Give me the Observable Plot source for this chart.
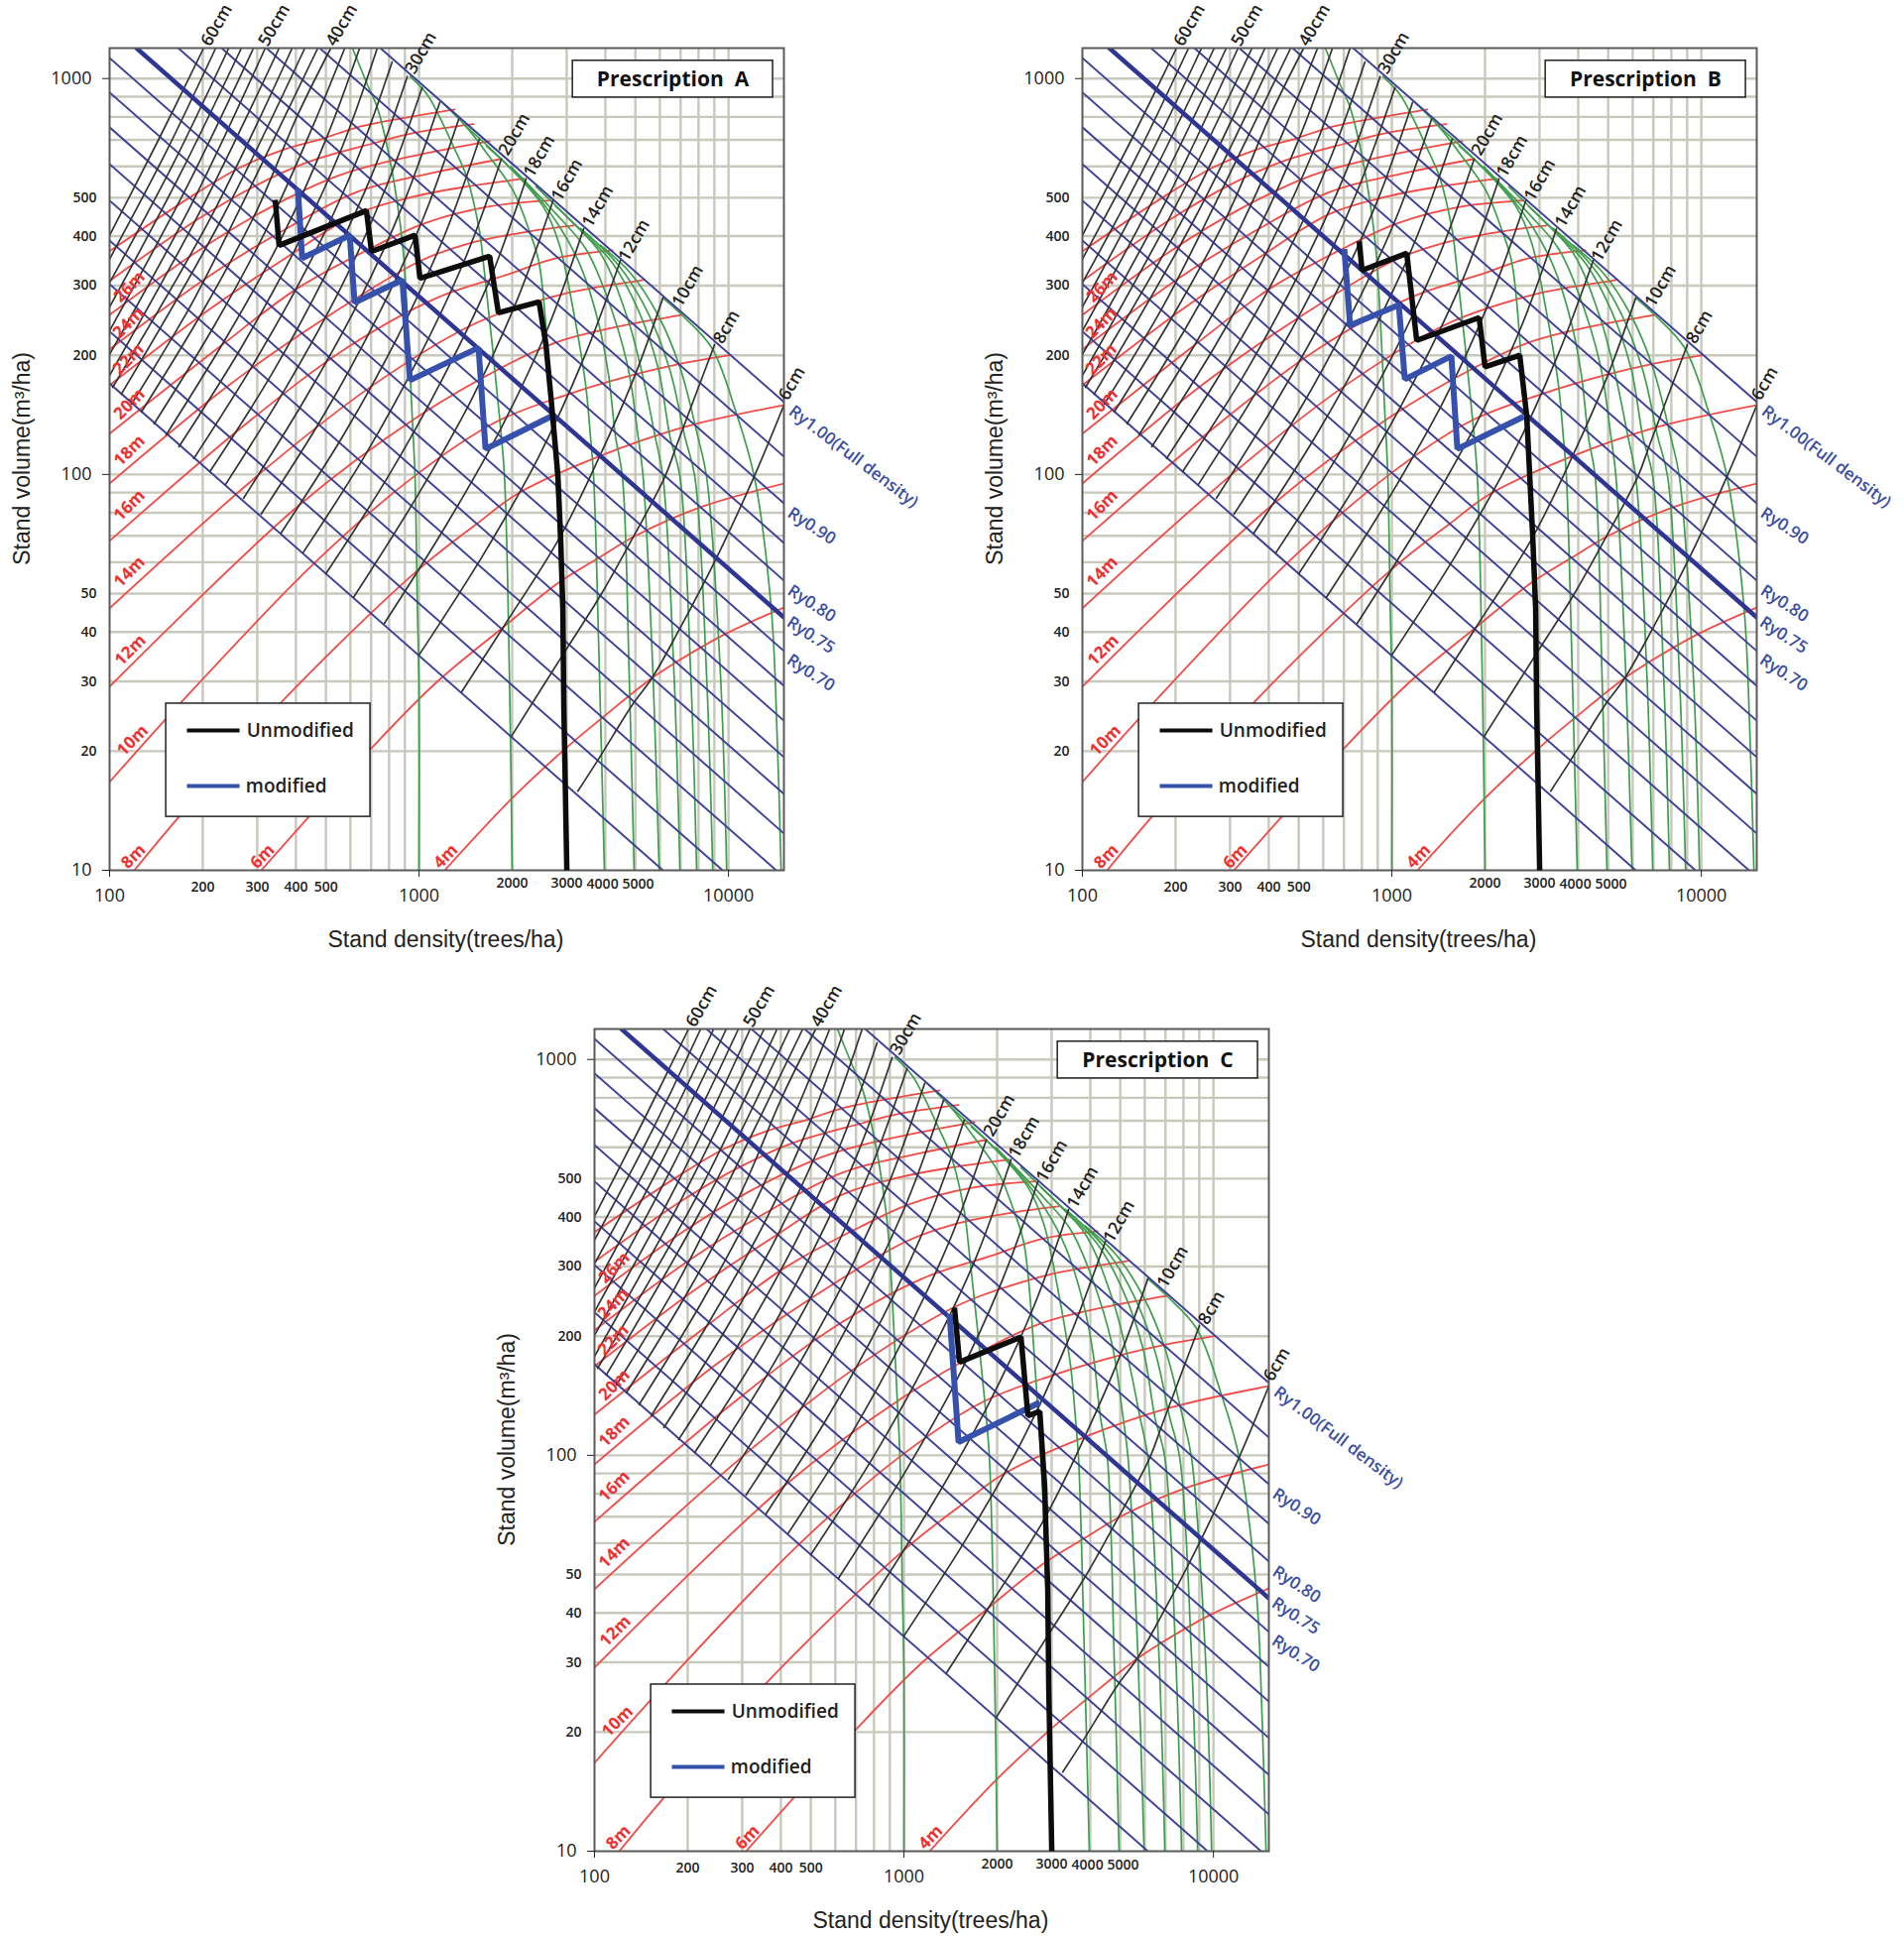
<!DOCTYPE html>
<html><head><meta charset="utf-8">
<script src="https://cdn.jsdelivr.net/npm/d3@7"></script>
<script src="https://cdn.jsdelivr.net/npm/@observablehq/plot@0.6"></script>
<style>html,body{margin:0;background:#fff}#c{position:relative;width:1920px;height:1953px;overflow:hidden}#c svg{position:absolute;overflow:visible}</style>
</head><body><div id="c"></div>
<script>
// All curves; each entry: [name, log10(density) list, log10(volume) list]
const ryLines = [
 ["1.00",[2.875,4.179],[3.077,2.183]],["r2",[2.679,4.179],[3.077,2.045]],["r3",[2.507,4.179],[3.077,1.927]],
 ["r4",[2.362,4.179],[3.077,1.827]],["r5",[2.222,4.179],[3.077,1.732]],
 ["r7",[2,4.179],[3.052,1.554]],["r8",[2,4.179],[2.965,1.466]],["r9",[2,4.179],[2.877,1.378]],
 ["r10",[2,4.179],[2.784,1.286]],["r11",[2,4.179],[2.692,1.193]],["r12",[2,4.179],[2.591,1.093]],
 ["r13",[2,4.154],[2.481,1]],["r14",[2,3.981],[2.361,1]],["r15",[2,3.788],[2.230,1]]];
const ryBold = [["bold",[2.087,4.179],[3.077,1.639]]];
const heightLines = [
 ["4m",[3.083,3.298,3.481,3.593,3.753,3.827,3.987,4.179],[1,1.180,1.313,1.386,1.486,1.524,1.596,1.664]],
 ["6m",[2.490,2.849,3.058,3.272,3.452,3.580,3.699,3.901,4.179],[1,1.311,1.476,1.614,1.727,1.789,1.845,1.915,1.977]],
 ["8m",[2.080,2.224,2.554,2.987,3.186,3.320,3.580,3.859,4.179],[1,1.135,1.424,1.752,1.875,1.952,2.045,2.120,2.175]],
 ["10m",[2,2.224,2.663,2.984,3.250,3.484,3.699,3.836,4.003],[1.223,1.418,1.777,1.995,2.133,2.203,2.253,2.278,2.301]],
 ["12m",[2,2.609,2.994,3.282,3.442,3.554,3.689,3.849],[1.464,1.920,2.145,2.276,2.333,2.358,2.381,2.403]],
 ["14m",[2,2.513,2.865,3.186,3.442,3.548,3.724],[1.662,2.020,2.233,2.383,2.451,2.469,2.491]],
 ["16m",[2,2.449,2.769,3.058,3.282,3.442,3.625],[1.832,2.133,2.321,2.446,2.504,2.546,2.566]],
 ["18m",[2,2.385,2.673,3.003,3.163,3.356,3.500],[1.977,2.225,2.383,2.539,2.584,2.614,2.629]],
 ["20m",[2,2.353,2.609,2.856,3.016,3.228,3.426],[2.103,2.321,2.471,2.576,2.634,2.677,2.692]],
 ["22m",[2,2.321,2.577,2.801,2.984,3.154,3.340],[2.225,2.416,2.551,2.659,2.702,2.727,2.747]],
 ["24m",[2,2.321,2.545,2.801,3.058,3.266],[2.316,2.501,2.609,2.714,2.764,2.797]],
 ["26m",[2,2.288,2.513,2.737,2.907,3.090,3.228],[2.403,2.566,2.672,2.754,2.792,2.822,2.842]],
 ["28m",[2,2.288,2.471,2.641,2.865,2.978,3.176],[2.489,2.646,2.729,2.789,2.839,2.862,2.885]],
 ["30m",[2,2.288,2.426,2.567,2.683,2.801,2.962,3.115],[2.564,2.714,2.777,2.822,2.847,2.877,2.902,2.922]]];
const densityLines = [
 ["n1000",[2.785,2.833,2.865,2.904,2.939,2.952,2.978,2.987,2.994,3,3],[3.077,2.985,2.927,2.802,2.634,2.534,2.145,1.995,1.694,1.444,1]],
 ["n2000",[2.971,3.026,3.067,3.112,3.154,3.195,3.208,3.260,3.276,3.292,3.301],[3.005,2.960,2.902,2.827,2.752,2.616,2.534,2.145,1.995,1.494,1]],
 ["n3000",[3.074,3.154,3.228,3.304,3.356,3.388,3.426,3.449,3.465,3.478],[2.940,2.877,2.802,2.717,2.616,2.534,2.195,1.895,1.494,1]],
 ["n4000",[3.144,3.282,3.401,3.452,3.497,3.538,3.554,3.564,3.583,3.599],[2.885,2.784,2.677,2.584,2.421,2.228,2.095,1.995,1.494,1]],
 ["n5000",[3.218,3.362,3.458,3.522,3.580,3.612,3.635,3.657,3.679,3.695],[2.829,2.722,2.621,2.526,2.383,2.253,2.095,1.995,1.494,1]],
 ["n6000",[3.298,3.442,3.538,3.603,3.673,3.708,3.724,3.756,3.776],[2.777,2.659,2.571,2.458,2.278,2.095,1.995,1.494,1]],
 ["n7000",[3.378,3.490,3.586,3.673,3.724,3.763,3.788,3.824,3.843],[2.727,2.641,2.559,2.396,2.245,2.095,1.995,1.494,1]],
 ["n8000",[3.442,3.538,3.625,3.708,3.772,3.811,3.843,3.878,3.897],[2.677,2.606,2.534,2.416,2.271,2.095,1.995,1.494,1]],
 ["n9000",[3.522,3.644,3.740,3.811,3.859,3.891,3.929,3.949],[2.621,2.529,2.408,2.263,2.095,1.995,1.494,1]],
 ["n10000",[3.586,3.683,3.772,3.843,3.901,3.929,3.974,3.994],[2.579,2.509,2.403,2.271,2.095,1.995,1.494,1]],
 ["n15000",[3.788,3.849,3.945,4.026,4.083,4.138,4.157,4.170],[2.446,2.403,2.321,2.153,1.995,1.662,1.343,1]]];
const diameterLines = [
 ["6",[3.513,3.580,3.689,3.753,3.836,3.961,4.083,4.179],[1.200,1.281,1.418,1.486,1.601,1.789,1.995,2.175]],
 ["8",[3.298,3.474,3.586,3.676,3.795,3.833,3.955],[1.338,1.556,1.694,1.819,1.995,2.075,2.328]],
 ["10",[3.138,3.272,3.452,3.580,3.699,3.788],[1.451,1.614,1.837,2.040,2.253,2.446]],
 ["12",[3.000,3.205,3.385,3.532,3.651],[1.544,1.794,2.042,2.293,2.541]],
 ["14",[2.888,3.090,3.269,3.417,3.532],[1.624,1.875,2.123,2.371,2.621]],
 ["16",[2.788,2.990,3.170,3.317,3.433],[1.689,1.940,2.190,2.441,2.692]],
 ["18",[2.699,2.904,3.080,3.231,3.346],[1.749,2.000,2.248,2.496,2.747]],
 ["20",[2.625,2.827,3.003,3.151,3.266],[1.802,2.050,2.301,2.549,2.797]],
 ["22",[2.554,2.756,2.933,3.080,3.195],[1.852,2.100,2.351,2.599,2.847]],
 ["24",[2.490,2.692,2.865,3.013,3.128],[1.900,2.150,2.398,2.646,2.897]],
 ["26",[2.433,2.631,2.808,2.952,3.067],[1.940,2.190,2.441,2.689,2.940]],
 ["28",[2.375,2.574,2.750,2.894,3.010],[1.975,2.225,2.476,2.727,2.977]],
 ["30",[2.324,2.526,2.699,2.846,2.962],[2.007,2.256,2.506,2.754,3.005]],
 ["32",[2.272,2.474,2.651,2.798,2.913],[2.040,2.291,2.541,2.792,3.042]],
 ["34",[2.224,2.426,2.603,2.750,2.865],[2.070,2.321,2.574,2.824,3.077]],
 ["36",[2.183,2.381,2.558,2.702,2.808],[2.100,2.351,2.601,2.852,3.077]],
 ["38",[2.144,2.340,2.513,2.657,2.760],[2.128,2.378,2.629,2.880,3.077]],
 ["40",[2.103,2.298,2.471,2.609,2.715],[2.158,2.408,2.659,2.910,3.077]],
 ["42",[2.071,2.263,2.426,2.673],[2.178,2.428,2.679,3.077]],
 ["44",[2.038,2.359,2.631],[2.203,2.641,3.077]],
 ["46",[2.010,2.327,2.590],[2.220,2.649,3.077]],
 ["48",[2,2.292,2.548],[2.250,2.664,3.077]],
 ["50",[2,2.269,2.503],[2.303,2.689,3.077]],
 ["52",[2,2.247,2.465],[2.363,2.722,3.077]],
 ["54",[2,2.224,2.426],[2.423,2.752,3.077]],
 ["56",[2,2.202,2.385],[2.484,2.779,3.077]],
 ["58",[2,2.179,2.343],[2.544,2.809,3.077]],
 ["60",[2,2.154,2.304],[2.604,2.839,3.077]]];

// Thinning paths: density (trees/ha) and volume (m3/ha)
const unmodifiedTail = [[2915,45.9],[2937,25.8],[3003,10]];
const pathAblack = [[343,494],[353,379],[676,464],[702,366],[971,402],[1007,313],[1690,356],[1805,256],[2442,273],[2570,213],[2668,157],[2811,98.9],[2872,67.1],...unmodifiedTail];
const pathAblue  = [[406,527],[419,352],[597,402],[619,272],[883,310],[935,173],[1557,209],[1640,116],[2668,140]];
const pathBblack = [[784,388],[801,328],[1117,362],[1203,218],[1914,249],[2000,187],[2590,200],[2729,140],[2851,70],...unmodifiedTail];
const pathBblue  = [[702,371],[733,238],[1053,268],[1101,174],[1557,199],[1628,116],[2668,140]];
const pathCblack = [[1456,236],[1512,172],[2388,199],[2515,126],[2748,129],[2851,82.6],[2872,67.1],...unmodifiedTail];
const pathCblue  = [[1404,227],[1501,108],[2748,136]];

const gridDensity = [200,300,400,500,600,700,800,900,1000,2000,3000,4000,5000,6000,7000,8000,9000,10000];
const gridVolume = [20,30,40,50,60,70,80,90,100,200,300,400,500,600,700,800,900,1000];
const majorDensityTicks = [100,1000,10000];
const hundredsDensityTicks = [200,300,400,500];
const thousandsDensityTicks = [2000,3000];
const majorVolumeTicks = [10,100,1000];
const minorVolumeTicks = [20,30,40,50,200,300,400,500];

// Labels: [text, log10 density, log10 volume]
const diameterLabels = [["60cm",2.346,3.135],["50cm",2.532,3.135],["40cm",2.750,3.135],["30cm",3.006,3.065],["20cm",3.308,2.859],["18cm",3.388,2.804],["16cm",3.478,2.744],["14cm",3.577,2.677],["12cm",3.695,2.591],["10cm",3.868,2.476],["8cm",3.994,2.373],["6cm",4.205,2.230]];
const heightLabels = [["26m",2.064,2.474],["24m",2.061,2.383],["22m",2.061,2.291],["20m",2.064,2.178],["18m",2.064,2.060],["16m",2.064,1.922],["14m",2.064,1.754],["12m",2.067,1.556],["10m",2.074,1.328],["8m",2.077,1.035],["6m",2.494,1.035],["4m",3.086,1.035]];
const ryLabels = [["Ry0.90",4.269,1.870],["Ry0.80",4.269,1.674],["Ry0.75",4.266,1.594],["Ry0.70",4.266,1.499]];
const ryFullLabel = [["Ry1.00(Full density)",4.404,2.045]];
const shiftedTickLabels = [["4000",3.593,0.965],["5000",3.708,0.965]];
const panels = [["A",pathAblack,pathAblue,0,0],["B",pathBblack,pathBblue,981,0],["C",pathCblack,pathCblue,489,989]];

const rows = fam => fam.flatMap(([id,ns,vs]) => ns.map((n,i)=>({id,n:10**n,v:10**vs[i]})));
const labelRows = l => l.map(([t,n,v])=>({t,n:10**n,v:10**v}));
const pathRows = p => p.map(([n,v])=>({n,v}));
const pow = v => 10**v;
const sans = "'Open Sans','Noto Sans',sans-serif";
const arial = "'Liberation Sans',Arial,sans-serif";

function panel([name,black,blue,left,top]) {
  const line = (fam,stroke,w,curve) => Plot.line(rows(fam),{x:"n",y:"v",z:"id",stroke,strokeWidth:w,curve,clip:true});
  const txt = (l,o) => Plot.text(labelRows(l),{x:"n",y:"v",text:"t",fontFamily:sans,textAnchor:"middle",lineAnchor:"middle",...o});
  const svg = Plot.plot({
    width:940,height:964,marginLeft:110,marginRight:150,marginTop:48,marginBottom:87,
    x:{type:"log",domain:[100,pow(4.179)]},
    y:{type:"log",domain:[10,pow(3.077)]},
    style:{background:"transparent"},
    marks:[
      Plot.ruleX(gridDensity,{stroke:"#c8c8bd",strokeWidth:2.4}),
      Plot.ruleY(gridVolume,{stroke:"#c8c8bd",strokeWidth:2.4}),
      line(heightLines,"#f24a46",1.8,"catmull-rom"),
      line(densityLines,"#3f9e4c",1.7,"catmull-rom"),
      line(ryLines,"#3c3f98",1.9,"linear"),
      line(diameterLines,"#333",1.7,"catmull-rom"),
      line(ryBold,"#2f3593",4.5,"linear"),
      Plot.frame({stroke:"#5a5a5a",strokeWidth:2}),
      Plot.axisX({ticks:majorDensityTicks,tickFormat:d=>`${d}`,tickSize:7,tickPadding:12,fontSize:18,fontFamily:sans,label:null,color:"#222"}),
      Plot.axisX({ticks:hundredsDensityTicks,tickFormat:d=>`${d}`,tickSize:0,tickPadding:12,fontSize:14,fontFamily:sans,fontWeight:600,label:null,color:"#222"}),
      Plot.axisX({ticks:thousandsDensityTicks,tickFormat:d=>`${d}`,tickSize:0,tickPadding:8,fontSize:14,fontFamily:sans,fontWeight:600,label:null,color:"#222"}),
      txt(shiftedTickLabels,{fontSize:14,fontWeight:600,fill:"#222"}),
      Plot.axisY({ticks:majorVolumeTicks,tickFormat:d=>`${d}`,tickSize:7,tickPadding:11,fontSize:18,fontFamily:sans,label:null,color:"#222"}),
      Plot.axisY({ticks:minorVolumeTicks,tickFormat:d=>`${d}`,tickSize:0,tickPadding:13,fontSize:14,fontFamily:sans,fontWeight:600,label:null,color:"#222"}),
      Plot.line(pathRows(blue),{x:"n",y:"v",stroke:"#3551ac",strokeWidth:6,strokeLinejoin:"miter",strokeLinecap:"butt"}),
      Plot.line(pathRows(black),{x:"n",y:"v",stroke:"#0c0c0c",strokeWidth:5.5,strokeLinejoin:"miter",strokeLinecap:"butt"}),
      txt(diameterLabels,{rotate:-60,fontSize:17.5,fill:"#222",fontWeight:600}),
      txt(heightLabels,{rotate:-45,fontSize:17,fill:"#f03030",fontWeight:700}),
      txt(ryLabels,{rotate:33,fontSize:17,fill:"#3a4ea3",fontWeight:600}),
      txt(ryFullLabel,{rotate:37,fontSize:17,fill:"#3a4ea3",fontWeight:600}),
      Plot.rect([{}],{x1:()=>pow(3.497),x2:()=>pow(4.144),y1:()=>pow(2.952),y2:()=>pow(3.045),fill:"#fff",stroke:"#222",strokeWidth:1.5}),
      Plot.text([`Prescription  ${name}`],{x:()=>pow(3.820),y:()=>pow(2.997),text:d=>d,fontFamily:sans,fontWeight:700,fontSize:21,fill:"#111",lineAnchor:"middle"}),
      Plot.rect([{}],{x1:()=>pow(2.183),x2:()=>pow(2.843),y1:()=>pow(1.135),y2:()=>pow(1.421),fill:"#fff",stroke:"#222",strokeWidth:1.5}),
      Plot.line([{n:pow(2.25),v:pow(1.353)},{n:pow(2.42),v:pow(1.353)}],{x:"n",y:"v",stroke:"#0c0c0c",strokeWidth:4,strokeLinecap:"butt"}),
      Plot.line([{n:pow(2.25),v:pow(1.213)},{n:pow(2.42),v:pow(1.213)}],{x:"n",y:"v",stroke:"#3551ac",strokeWidth:4,strokeLinecap:"butt"}),
      Plot.text(["Unmodified"],{x:()=>pow(2.443),y:()=>pow(1.351),text:d=>d,textAnchor:"start",lineAnchor:"middle",fontFamily:sans,fontWeight:600,fontSize:19,fill:"#222"}),
      Plot.text(["modified"],{x:()=>pow(2.440),y:()=>pow(1.211),text:d=>d,textAnchor:"start",lineAnchor:"middle",fontFamily:sans,fontWeight:600,fontSize:19,fill:"#222"}),
      Plot.text(["Stand density(trees/ha)"],{x:()=>pow(3.086),y:()=>pow(0.825),text:d=>d,fontFamily:arial,fontSize:23,fill:"#222",lineAnchor:"middle"}),
      Plot.text(["Stand volume(m³/ha)"],{x:()=>pow(1.718),y:()=>pow(2.040),text:d=>d,rotate:-90,fontFamily:arial,fontSize:23,fill:"#222",lineAnchor:"middle"})
    ]
  });
  svg.style.left=left+"px"; svg.style.top=top+"px";
  document.getElementById("c").appendChild(svg);
}
panels.forEach(panel);
</script></body></html>
